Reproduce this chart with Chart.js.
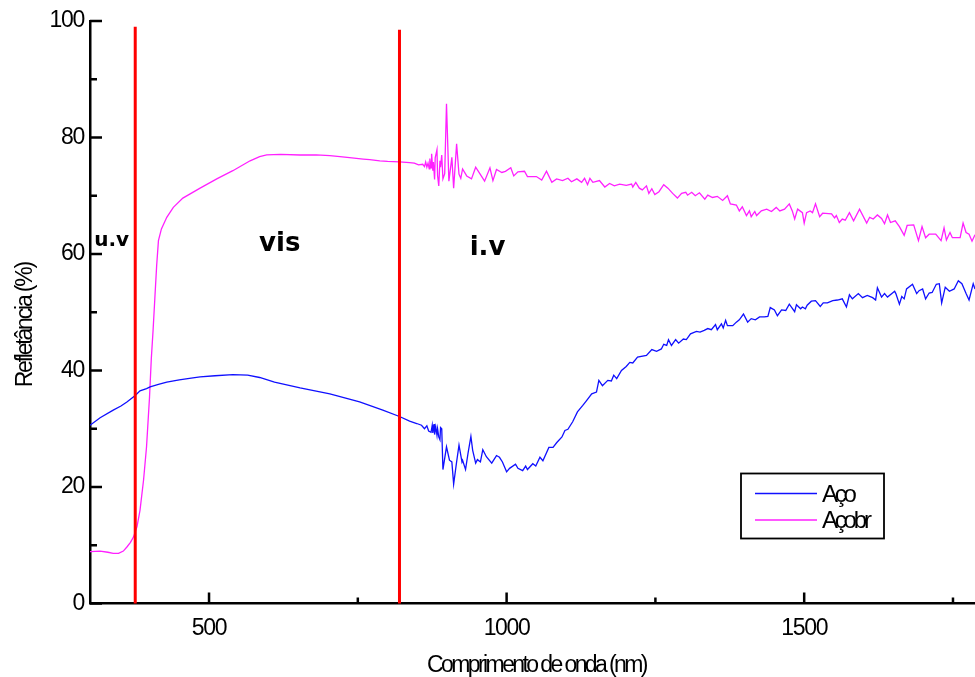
<!DOCTYPE html>
<html>
<head>
<meta charset="utf-8">
<title>Refletância</title>
<script src="https://cdn.jsdelivr.net/npm/chart.js@4.4.1/dist/chart.umd.min.js"></script>
<style>
  html, body { margin: 0; padding: 0; background: #fff; }
  #wrap { width: 975px; height: 677px; }
</style>
</head>
<body>
<div id="wrap"><canvas id="grafico" width="975" height="677"></canvas></div>
<script>
// Aço (sem revestimento)
const ondaAco = [300, 317, 339, 352, 362, 376, 384, 395, 401, 415, 429, 450, 470, 485, 510, 540, 565, 585, 610, 653,
  703, 753, 792, 820, 837, 849, 857, 862, 866, 869, 873, 875, 876, 878, 879, 881, 883, 884, 886, 888,
  889, 891, 893, 899, 904, 908, 911, 916, 920, 925, 926, 931, 935, 940, 943, 948, 951, 956, 960, 966,
  975, 983, 988, 993, 1000, 1005, 1015, 1019, 1027, 1032, 1035, 1044, 1049, 1056, 1061, 1071, 1078, 1084, 1093, 1098,
  1103, 1111, 1119, 1128, 1134, 1143, 1151, 1155, 1161, 1170, 1176, 1180, 1185, 1193, 1201, 1207, 1212, 1220, 1235, 1244,
  1252, 1260, 1264, 1269, 1272, 1277, 1284, 1289, 1297, 1302, 1309, 1319, 1325, 1332, 1338, 1344, 1351, 1354, 1361, 1364,
  1368, 1371, 1380, 1386, 1391, 1398, 1405, 1411, 1418, 1425, 1433, 1439, 1443, 1450, 1455, 1462, 1469, 1475, 1484, 1487,
  1494, 1497, 1502, 1505, 1512, 1519, 1527, 1532, 1539, 1548, 1556, 1564, 1571, 1576, 1581, 1591, 1598, 1606, 1615, 1620,
  1623, 1630, 1635, 1640, 1652, 1654, 1660, 1664, 1668, 1672, 1682, 1689, 1693, 1699, 1704, 1710, 1715, 1722, 1727, 1731,
  1737, 1744, 1752, 1759, 1765, 1772, 1777, 1784, 1787];
const refAco = [30.6, 31.9, 33.2, 33.9, 34.6, 35.7, 36.5, 36.9, 37.2, 37.6, 38.0, 38.4, 38.7, 38.9, 39.1, 39.3, 39.2, 38.8, 38.0, 37.0,
  36.0, 34.6, 33.2, 32.1, 31.3, 30.9, 30.6, 30.0, 30.5, 29.6, 29.4, 30.6, 29.3, 30.8, 29.0, 30.3, 28.9, 30.0, 28.6, 28.1,
  30.2, 30.0, 23.0, 26.9, 24.6, 24.3, 20.5, 24.3, 27.2, 24.3, 24.6, 23.0, 25.7, 28.7, 26.3, 24.1, 24.7, 24.3, 26.4, 25.2,
  24.1, 25.4, 25.1, 24.3, 22.6, 23.2, 23.9, 23.2, 22.8, 23.6, 23.0, 24.0, 23.6, 25.1, 24.5, 26.8, 26.8, 27.6, 28.6, 29.7,
  29.9, 31.2, 32.9, 34.0, 34.8, 36.0, 36.3, 38.3, 37.4, 38.3, 38.2, 39.2, 38.6, 40.0, 40.7, 41.4, 41.3, 42.3, 42.6, 43.6,
  43.3, 43.7, 44.5, 44.3, 45.3, 44.3, 45.3, 44.7, 45.4, 45.3, 46.3, 46.7, 46.6, 46.9, 47.2, 47.0, 47.9, 47.0, 48.0, 47.3,
  48.6, 47.7, 47.7, 48.3, 48.7, 49.7, 48.3, 48.9, 48.7, 49.2, 49.2, 49.3, 50.8, 50.4, 49.4, 50.4, 50.3, 51.4, 50.1, 51.3,
  50.6, 50.9, 50.6, 51.2, 51.9, 52.0, 51.0, 51.6, 51.6, 52.0, 52.1, 52.3, 50.9, 53.0, 52.3, 53.2, 52.5, 52.9, 52.5, 52.1,
  54.2, 52.6, 53.2, 52.6, 53.6, 53.2, 51.4, 52.7, 52.3, 54.0, 54.8, 53.2, 53.7, 54.0, 52.3, 53.3, 53.4, 54.8, 54.9, 51.6,
  54.3, 53.6, 54.0, 55.4, 54.9, 53.2, 52.1, 54.9, 54.0];

// Aço com revestimento (Açobr)
const ondaAcobr = [300, 317, 330, 339, 348, 356, 362, 368, 373, 379, 384, 390, 395, 400, 403, 406, 409, 412, 415, 420,
  429, 440, 456, 485, 513, 540, 569, 585, 597, 620, 653, 680, 703, 720, 740, 759, 770, 787, 800, 820,
  837, 845, 852, 859, 862, 864, 866, 868, 870, 871, 873, 874, 876, 877, 879, 880, 883, 884, 886, 888,
  889, 891, 893, 896, 899, 903, 908, 911, 916, 920, 923, 926, 933, 941, 948, 955, 963, 972, 977, 983,
  992, 998, 1007, 1012, 1019, 1030, 1035, 1050, 1059, 1067, 1076, 1084, 1094, 1103, 1109, 1118, 1126, 1131, 1136, 1140,
  1145, 1156, 1165, 1173, 1181, 1190, 1201, 1210, 1212, 1217, 1223, 1228, 1235, 1239, 1244, 1249, 1256, 1264, 1271, 1279,
  1287, 1294, 1301, 1304, 1311, 1317, 1324, 1333, 1338, 1346, 1354, 1363, 1371, 1376, 1386, 1391, 1396, 1403, 1408, 1411,
  1417, 1420, 1428, 1437, 1445, 1453, 1459, 1467, 1475, 1480, 1484, 1489, 1497, 1500, 1504, 1510, 1514, 1519, 1526, 1531,
  1546, 1551, 1554, 1559, 1564, 1569, 1576, 1583, 1593, 1605, 1610, 1616, 1623, 1630, 1635, 1640, 1645, 1653, 1660, 1668,
  1673, 1684, 1692, 1698, 1704, 1710, 1721, 1730, 1735, 1739, 1745, 1749, 1762, 1767, 1772, 1777, 1782, 1787];
const refAcobr = [8.9, 9.0, 8.8, 8.6, 8.6, 9.0, 9.7, 10.5, 11.4, 13.2, 16.0, 21.2, 26.9, 35.4, 42.0, 46.9, 52.5, 58.0, 62.3, 64.3,
  66.3, 68.0, 69.6, 71.3, 72.9, 74.3, 76.0, 76.7, 77.0, 77.1, 77.0, 77.0, 76.9, 76.7, 76.5, 76.3, 76.2, 76.0, 75.9, 75.8,
  75.7, 75.6, 75.3, 75.4, 75.0, 75.8, 74.9, 75.6, 74.6, 76.4, 74.8, 77.2, 74.3, 75.8, 72.8, 76.5, 77.9, 73.5, 71.7, 76.0,
  74.9, 77.0, 72.9, 73.8, 85.8, 72.5, 76.6, 71.3, 78.9, 73.7, 73.0, 74.6, 73.4, 72.9, 74.9, 73.8, 72.5, 74.8, 72.6, 74.5,
  74.0, 74.2, 74.8, 73.4, 74.1, 74.2, 73.3, 73.3, 72.7, 74.2, 72.3, 72.9, 72.6, 73.0, 72.4, 72.9, 72.3, 73.0, 71.9, 73.0,
  72.3, 72.6, 71.5, 72.1, 71.7, 72.0, 71.8, 72.0, 71.5, 72.3, 71.3, 71.0, 71.7, 70.4, 71.2, 70.2, 70.7, 71.9, 71.3, 70.4,
  69.6, 70.4, 70.6, 70.1, 70.6, 70.0, 70.5, 69.4, 70.1, 69.7, 69.9, 69.2, 70.0, 68.6, 68.4, 67.4, 68.1, 66.6, 67.4, 66.4,
  67.3, 66.6, 67.4, 67.7, 67.3, 68.0, 67.4, 67.7, 68.6, 67.4, 66.0, 67.7, 67.1, 65.3, 67.1, 67.4, 67.1, 68.6, 66.4, 67.0,
  66.9, 66.2, 66.6, 65.4, 66.0, 65.8, 67.1, 65.7, 67.7, 65.3, 66.3, 66.0, 66.7, 66.1, 65.2, 66.7, 65.4, 65.7, 64.7, 63.2,
  64.9, 65.0, 62.3, 64.7, 62.8, 63.4, 63.4, 62.3, 64.5, 62.4, 63.7, 62.8, 62.8, 65.3, 63.7, 63.4, 62.2, 63.3];

// limites das regiões espectrais (nm) e altura das linhas vermelhas (%)
const limitesRegiao = [376, 820];
const topoLimite = [99.0, 98.5];

// rótulos das regiões
const nomesRegiao = ['u.v', 'vis', 'i.v'];
const regiaoX = [307, 584, 938];
const regiaoY = [61.4, 60.6, 59.9];
const regiaoFonte = [20, 26, 26];

// marcas dos eixos
const xPrincipais = [500, 1000, 1500];
const xSecundarias = [750, 1250, 1750];
const yPrincipais = [0, 20, 40, 60, 80, 100];
const ySecundarias = [10, 30, 50, 70, 90];

const tituloX = 'Comprimento de onda (nm)';
const tituloY = 'Refletância (%)';

const FONTE = "'Liberation Sans', Arial, sans-serif";

function pontos(xs, ys) {
  return xs.map((v, i) => ({ x: v, y: ys[i] }));
}

// números dos eixos um pouco condensados
const condensado = {
  id: 'condensado',
  beforeDraw(chart) {
    chart.ctx.letterSpacing = '-1.3px';
  }
};

// marcas dos eixos voltadas para dentro
const marcas = {
  id: 'marcas',
  afterDraw(chart) {
    const { ctx, chartArea: a, scales: { x, y } } = chart;
    ctx.save();
    ctx.strokeStyle = '#000';
    ctx.lineWidth = 2.5;
    ctx.beginPath();
    xPrincipais.forEach(v => { const p = x.getPixelForValue(v); ctx.moveTo(p, a.bottom); ctx.lineTo(p, a.bottom - 11); });
    xSecundarias.forEach(v => { const p = x.getPixelForValue(v); ctx.moveTo(p, a.bottom); ctx.lineTo(p, a.bottom - 6); });
    yPrincipais.forEach(v => { const p = y.getPixelForValue(v); ctx.moveTo(a.left, p); ctx.lineTo(a.left + 12, p); });
    ySecundarias.forEach(v => { const p = y.getPixelForValue(v); ctx.moveTo(a.left, p); ctx.lineTo(a.left + 7, p); });
    ctx.stroke();
    ctx.restore();
  }
};

// títulos dos eixos (fonte estreita)
const titulos = {
  id: 'titulos',
  afterDraw(chart) {
    const { ctx, chartArea: a } = chart;
    ctx.save();
    ctx.fillStyle = '#000';
    ctx.font = '23px ' + FONTE;
    ctx.textAlign = 'center';
    ctx.textBaseline = 'alphabetic';
    ctx.letterSpacing = '-2.6px';
    ctx.fillText(tituloX, (a.left + a.right) / 2 + 4, a.bottom + 68);
    ctx.letterSpacing = '-2.2px';
    ctx.translate(a.left - 58, (a.top + a.bottom) / 2 + 13);
    ctx.rotate(-Math.PI / 2);
    ctx.fillText(tituloY, 0, 0);
    ctx.restore();
  }
};

// nomes das regiões: u.v / vis / i.v
const regioes = {
  id: 'regioes',
  afterDatasetsDraw(chart) {
    const { ctx, scales: { x, y } } = chart;
    ctx.save();
    ctx.letterSpacing = '0px';
    ctx.fillStyle = '#000';
    ctx.textAlign = 'left';
    ctx.textBaseline = 'alphabetic';
    nomesRegiao.forEach((t, i) => {
      ctx.font = 'bold ' + regiaoFonte[i] + "px 'DejaVu Sans', sans-serif";
      ctx.fillText(t, x.getPixelForValue(regiaoX[i]), y.getPixelForValue(regiaoY[i]));
    });
    ctx.restore();
  }
};

// legenda com moldura dentro da área do gráfico
const legenda = {
  id: 'legenda',
  afterDraw(chart) {
    const { ctx, chartArea: a } = chart;
    const itens = chart.data.datasets.filter(d => d.label);
    const bx = a.right - 234, by = a.bottom - 130, bw = 143, bh = 65;
    ctx.save();
    ctx.fillStyle = '#fff';
    ctx.fillRect(bx, by, bw, bh);
    ctx.strokeStyle = '#000';
    ctx.lineWidth = 1.8;
    ctx.strokeRect(bx, by, bw, bh);
    ctx.font = '24px ' + FONTE;
    ctx.letterSpacing = '-3.2px';
    ctx.textBaseline = 'alphabetic';
    ctx.fillStyle = '#000';
    itens.forEach((d, i) => {
      const ly = by + 20 + i * 26.5;
      ctx.strokeStyle = d.borderColor;
      ctx.lineWidth = 1.3;
      ctx.beginPath();
      ctx.moveTo(bx + 14, ly);
      ctx.lineTo(bx + 76, ly);
      ctx.stroke();
      ctx.fillText(d.label, bx + 81, ly + 8);
    });
    ctx.restore();
  }
};

const linhaLimite = (i) => ({
  data: [{ x: limitesRegiao[i], y: 0 }, { x: limitesRegiao[i], y: topoLimite[i] }],
  borderColor: '#ff0000',
  borderWidth: 3,
  pointRadius: 0,
  clip: false
});

new Chart(document.getElementById('grafico'), {
  type: 'line',
  data: {
    datasets: [
      linhaLimite(0),
      linhaLimite(1),
      {
        label: 'Aço',
        data: pontos(ondaAco, refAco),
        borderColor: '#1010ff',
        borderWidth: 1.3,
        pointRadius: 0,
        tension: 0
      },
      {
        label: 'Açobr',
        data: pontos(ondaAcobr, refAcobr),
        borderColor: '#ff20ff',
        borderWidth: 1.3,
        pointRadius: 0,
        tension: 0
      }
    ]
  },
  options: {
    responsive: false,
    animation: false,
    devicePixelRatio: 1,
    layout: { padding: { top: 21, right: 0, left: 0, bottom: 0 } },
    plugins: {
      legend: { display: false },
      tooltip: { enabled: false }
    },
    scales: {
      x: {
        type: 'linear',
        min: 300,
        max: 1787,
        afterFit(s) { s.height = 73.5; },
        afterBuildTicks(s) { s.ticks = xPrincipais.map(v => ({ value: v })); },
        grid: { drawOnChartArea: false, drawTicks: false },
        border: { color: '#000', width: 2.5 },
        ticks: {
          color: '#000',
          padding: 11,
          maxRotation: 0,
          font: { family: FONTE, size: 23 },
          callback: v => String(v)
        }
      },
      y: {
        min: 0,
        max: 100,
        afterFit(s) { s.width = 90; },
        afterBuildTicks(s) { s.ticks = yPrincipais.map(v => ({ value: v })); },
        grid: { drawOnChartArea: false, drawTicks: false },
        border: { color: '#000', width: 2.5 },
        ticks: { color: '#000', padding: 6, font: { family: FONTE, size: 23 }, callback: v => String(v) }
      }
    }
  },
  plugins: [condensado, marcas, titulos, regioes, legenda]
});
</script>
</body>
</html>
